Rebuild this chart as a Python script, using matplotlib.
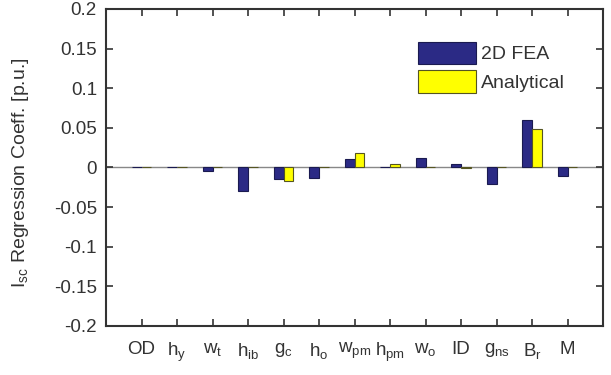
import numpy as np
import matplotlib
matplotlib.use('Agg')
import matplotlib.pyplot as plt

plt.rcParams['font.family'] = ['Liberation Sans', 'DejaVu Sans']
plt.rcParams['mathtext.fontset'] = 'custom'
plt.rcParams['mathtext.rm'] = 'Liberation Sans'
plt.rcParams['mathtext.default'] = 'regular'

# parameter names (subscripts via mathtext)
params = ['OD', 'h$_y$', 'w$_t$', 'h$_{ib}$', 'g$_c$', 'h$_o$', 'w$_{pm}$',
          'h$_{pm}$', 'w$_o$', 'ID', 'g$_{ns}$', 'B$_r$', 'M']
fea = [0.001, 0.0005, -0.004, -0.030, -0.015, -0.0135, 0.0105,
       0.001, 0.012, 0.004, -0.021, 0.060, -0.011]
analytical = [0.0005, 0.0, 0.001, 0.0, -0.017, 0.0, 0.018,
              0.004, 0.0, -0.001, 0.0, 0.049, 0.0]
yticks = [-0.2, -0.15, -0.1, -0.05, 0, 0.05, 0.1, 0.15, 0.2]
ytick_labels = ['-0.2', '-0.15', '-0.1', '-0.05', '0', '0.05', '0.1', '0.15', '0.2']

txt = '#333333'
fig = plt.figure(figsize=(6.11, 3.75), dpi=100)
ax = fig.add_axes([0.1735, 0.1307, 0.8135, 0.8453])

x = np.arange(1, len(params) + 1)
w = 0.27
ax.bar(x - w/2, fea, w, color='#2b2a85', edgecolor='#1a1a50', linewidth=0.8, label='2D FEA')
ax.bar(x + w/2, analytical, w, color='#ffff00', edgecolor='#555522', linewidth=0.8, label='Analytical')
ax.axhline(0, color='#888888', linewidth=1.0, zorder=0)

ax.set_xlim(0, 14)
ax.set_ylim(-0.2, 0.2)
ax.set_xticks(x)
ax.set_xticklabels(params, fontsize=13.5, color=txt)
ax.set_yticks(yticks)
ax.set_yticklabels(ytick_labels, fontsize=13.5, color=txt)
ax.tick_params(direction='in', length=5, width=1.2, top=True, right=True, color='#333333')
ax.tick_params(axis='x', pad=11)
ax.tick_params(axis='y', pad=6.5)
for s in ax.spines.values():
    s.set_linewidth(1.5)
    s.set_color('#333333')
ax.set_ylabel('I$_{sc}$ Regression Coeff. [p.u.]', fontsize=14, color=txt)
ax.yaxis.set_label_coords(-0.151, 0.485)

leg = ax.legend(loc='upper left', bbox_to_anchor=(0.628, 0.897), frameon=False, fontsize=14,
                borderpad=0, borderaxespad=0,
                handlelength=3.0, handleheight=1.4, handletextpad=0.25, labelspacing=0.32,
                labelcolor=txt)

fig.savefig('out.png', dpi=100)
